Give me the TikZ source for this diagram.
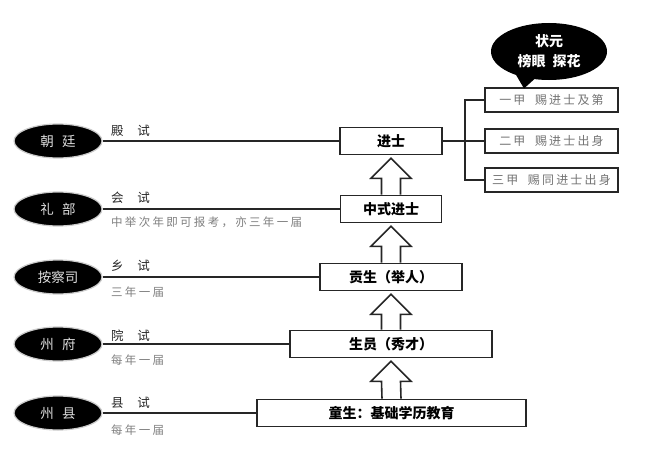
\documentclass[tikz,border=0pt]{standalone}
\usepackage{fontspec}
\setmainfont{Noto Sans CJK SC}
\usetikzlibrary{shapes.geometric,calc}
\newcommand\myblockarrow[2]{%
  \draw[blockarr] ($(#1.north)+(-9.5,0)$) -- ($(#2.south)+(-9.5,23)$) -- ($(#2.south)+(-20,23)$)
    -- ($(#2.south)+(0,3)$) -- ($(#2.south)+(20,23)$) -- ($(#2.south)+(9.5,23)$) -- ($(#1.north)+(9.5,0)$);}
\begin{document}
\begin{tikzpicture}[x=1pt,y=-1pt,
  office/.style={ellipse,fill=black,draw=gray!40,line width=1.2pt,minimum width=88pt,minimum height=34pt,
    inner sep=0pt,text=gray!25,font=\fontsize{13.5}{14}\selectfont},
  stage/.style={draw=black!85,line width=1.7pt,fill=white,minimum height=27pt,inner sep=0pt,
    font=\fontsize{14}{14}\selectfont\bfseries},
  rank/.style={draw=black!85,line width=1.6pt,fill=white,minimum width=133pt,minimum height=24pt,
    inner sep=0pt,text=black!55,font=\fontsize{12}{12}\selectfont\addfontfeature{LetterSpace=18}},
  link/.style={line width=1.9pt,draw=black!85},
  exam/.style={anchor=west,inner sep=0pt,text=black!85,font=\fontsize{12.5}{12}\selectfont},
  note/.style={anchor=west,inner sep=0pt,text=black!50,font=\fontsize{11.5}{12}\selectfont\addfontfeature{LetterSpace=20}},
  blockarr/.style={draw=black!85,line width=1.6pt,fill=white,line join=miter}]
\fill[white] (0,0) rectangle (650,452);
\path[use as bounding box] (0,0) rectangle (650,452);

% stage boxes
\node[stage,minimum width=102pt] (js) at (391,141) {进士};
\node[stage,minimum width=101pt] (zs) at (391,209) {中式进士};
\node[stage,minimum width=142pt] (gs) at (391,277) {贡生（举人）};
\node[stage,minimum width=202pt] (sy) at (391,344) {生员（秀才）};
\node[stage,minimum width=269pt] (ts) at (391.5,413) {童生：基础学历教育};

% offices
\node[office] (ct) at (58,141) {朝\hspace{0.6em}廷};
\node[office] (lb) at (58,209) {礼\hspace{0.6em}部};
\node[office] (acs) at (58,277) {按察司};
\node[office] (zf) at (58,344) {州\hspace{0.6em}府};
\node[office] (zx) at (58,413) {州\hspace{0.6em}县};

\draw[link] (ct.east) -- (js.west);
\draw[link] (lb.east) -- (zs.west);
\draw[link] (acs.east) -- (gs.west);
\draw[link] (zf.east) -- (sy.west);
\draw[link] (zx.east) -- (ts.west);

% exam labels
\node[exam] (e1) at (111,131) {殿\hspace{1.1em}试};
\node[exam] (e2) at (111,198) {会\hspace{1.1em}试};
\node[exam] (e3) at (111,266) {乡\hspace{1.1em}试};
\node[exam] (e4) at (111,336) {院\hspace{1.1em}试};
\node[exam] (e5) at (111,403) {县\hspace{1.1em}试};
\node[note] (n2) at (111,222) {中举次年即可报考，亦三年一届};
\node[note] (n3) at (111,292) {三年一届};
\node[note] (n4) at (111,360) {每年一届};
\node[note] (n5) at (111,430) {每年一届};

% block arrows
\myblockarrow{zs}{js}
\myblockarrow{gs}{zs}
\myblockarrow{sy}{gs}
\myblockarrow{ts}{sy}

% ranks
\node[rank] (r1) at (551.5,100) {一甲\hspace{0.8em}赐进士及第};
\node[rank] (r2) at (551.5,141) {二甲\hspace{0.8em}赐进士出身};
\node[rank] (r3) at (551.5,180) {三甲\hspace{0.8em}赐同进士出身};
\coordinate (br) at (465,141);
\draw[link] (js.east) -- (br);
\draw[link] (br) |- (r1.west);
\draw[link] (br) -- (r2.west);
\draw[link] (br) |- (r3.west);

% callout
\fill[black] (512,68) -- (524,88.5) -- (540,74) -- cycle;
\node[ellipse,fill=black,minimum width=116pt,minimum height=57pt,inner sep=0pt,
  align=center,text=white,font=\fontsize{14}{20}\selectfont\bfseries] (cb) at (549,51.5) {状元\\榜眼\hspace{0.5em}探花};
\end{tikzpicture}
\end{document}
